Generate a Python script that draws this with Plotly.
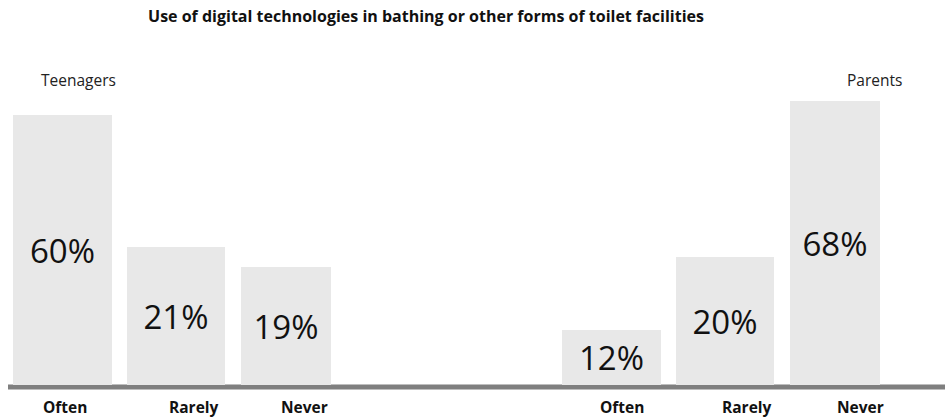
import plotly.graph_objects as go

# ---- data ----
title_text = "Use of digital technologies in bathing or other forms of toilet facilities"
groups = ["Teenagers", "Parents"]
categories = ["Often", "Rarely", "Never"]
teen_pct = [60, 21, 19]
parent_pct = [12, 20, 68]
# drawn bar heights (as they appear in the picture, same units as the 60% bar)
teen_height = [60, 30.6, 26.2]
parent_height = [12.2, 28.4, 63.2]

# ---- layout helpers (positions / styles) ----
group_start = [0.0, 4.88]
slot_offset = [0.0, 1.01, 1.99]
bar_width = [0.88, 0.87, 0.80]
label_xshift = [[2, 18, 18], [10, 22, 25]]
group_label_x = [78, 874]
UNIT_PX = 112.5
W, H = 945, 418
MB, MT = 33, 30
PX_PER_Y = 4.5

bar_color = "#e8e8e8"
font_main = "Open Sans, Calibri, Carlito, sans-serif"

fig = go.Figure()

for g, (pcts, hts) in enumerate([(teen_pct, teen_height), (parent_pct, parent_height)]):
    xs = [group_start[g] + o for o in slot_offset]
    fig.add_trace(go.Bar(
        x=xs, y=hts, width=bar_width,
        marker=dict(color=bar_color, line=dict(width=0)),
        text=[f"{p}%" for p in pcts],
        textposition="inside", insidetextanchor="middle", textangle=0,
        constraintext="none",
        textfont=dict(family=font_main, size=33, color="#111111"),
        hoverinfo="skip", showlegend=False,
    ))
    for i, c in enumerate(categories):
        fig.add_annotation(
            x=xs[i], xref="x", y=0, yref="y", yshift=-22, xshift=label_xshift[g][i],
            text=f"<b>{c}</b>", showarrow=False, xanchor="center", yanchor="middle",
            font=dict(family=font_main, size=15.5, color="#111111"),
        )

x0 = -62.5 / UNIT_PX
x1 = (W - 62.5) / UNIT_PX
plot_h = H - MB - MT
ymax = plot_h / PX_PER_Y

# baseline
fig.add_shape(type="line", xref="paper", yref="paper",
              x0=8 / W, x1=1, y0=-2 / plot_h, y1=-2 / plot_h,
              line=dict(color="#7f7f7f", width=5), layer="below")

# group labels
for g, name in enumerate(groups):
    fig.add_annotation(xref="paper", yref="paper", x=group_label_x[g] / W,
                       y=(H - MB - 80) / plot_h, xanchor="center", yanchor="middle",
                       text=name, showarrow=False,
                       font=dict(family=font_main, size=15.5, color="#222222"))

fig.update_layout(
    width=W, height=H,
    margin=dict(l=0, r=0, t=MT, b=MB, pad=0),
    paper_bgcolor="white", plot_bgcolor="white",
    title=dict(text=f"<b>{title_text}</b>", x=426 / W, xanchor="center",
               y=1 - 16 / H, yanchor="middle",
               font=dict(family=font_main, size=16, color="#111111")),
    xaxis=dict(range=[x0, x1], visible=False, fixedrange=True),
    yaxis=dict(range=[0, ymax], visible=False, fixedrange=True),
    bargap=0,
)

fig.write_html("out.html")
